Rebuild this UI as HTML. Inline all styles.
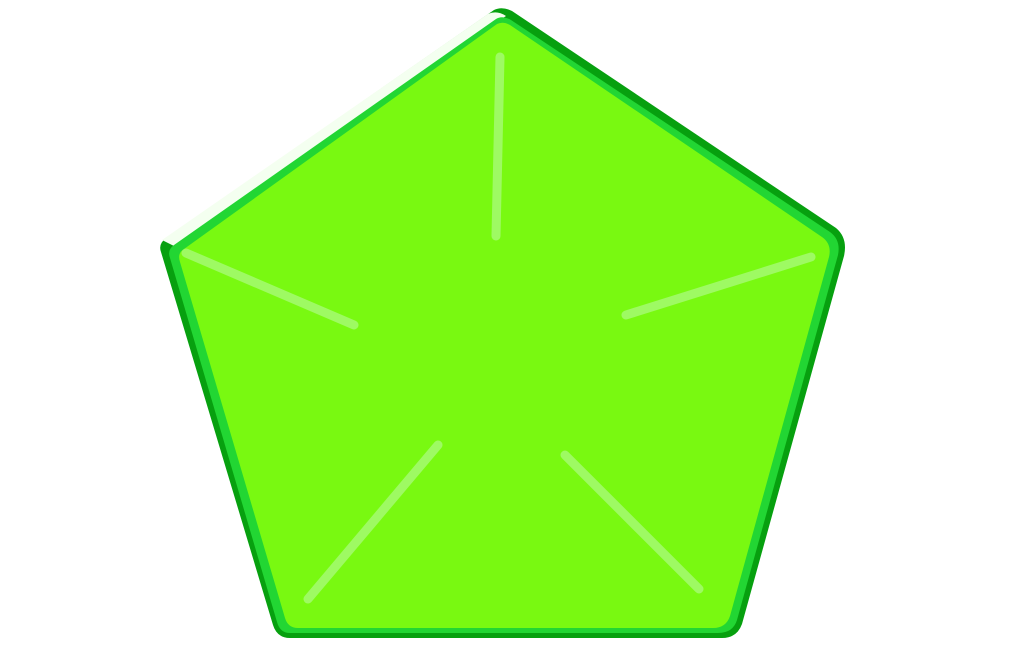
<!DOCTYPE html>
<html><head><meta charset="utf-8"><style>
html,body{margin:0;padding:0;background:#fff;width:1024px;height:647px;overflow:hidden}
svg{display:block}
</style></head><body>
<svg width="1024" height="647" viewBox="0 0 1024 647" xmlns="http://www.w3.org/2000/svg">
  <path d="M494,10 Q502,6 512,11 L836,228 Q848,238 844,256 L742,624 Q737,638 722,638 L290,638 Q277,638 273,625 L161,252 Q158,244 166,238 Z" fill="#07a00f"/>
  <path d="M162,240 L488,14 Q497,10 506,16 L500,20 L176,247 Z" fill="#f4fff0"/>
  <path d="M496,19 Q502,15 511,20 L830,232 Q841,240 838,255 L737,620 Q733,633 718,633 L290,633 Q280,633 277,622 L170,258 Q167,250 174,245 Z" fill="#22d633"/>
  <path d="M497,24 Q503,21 510,25 L822,237 Q832,244 829,257 L730,616 Q726,628 713,628 L298,628 Q288,628 285,618 L180,262 Q177,253 184,249 Z" fill="#79f911"/>
  <g stroke="#a8fb78" stroke-width="9" stroke-linecap="round" opacity="0.8">
    <line x1="500" y1="57" x2="496" y2="236"/>
    <line x1="186" y1="253" x2="354" y2="325"/>
    <line x1="626" y1="315" x2="811" y2="257"/>
    <line x1="438" y1="445" x2="308" y2="599"/>
    <line x1="565" y1="455" x2="699" y2="589"/>
  </g>
</svg>
</body></html>
